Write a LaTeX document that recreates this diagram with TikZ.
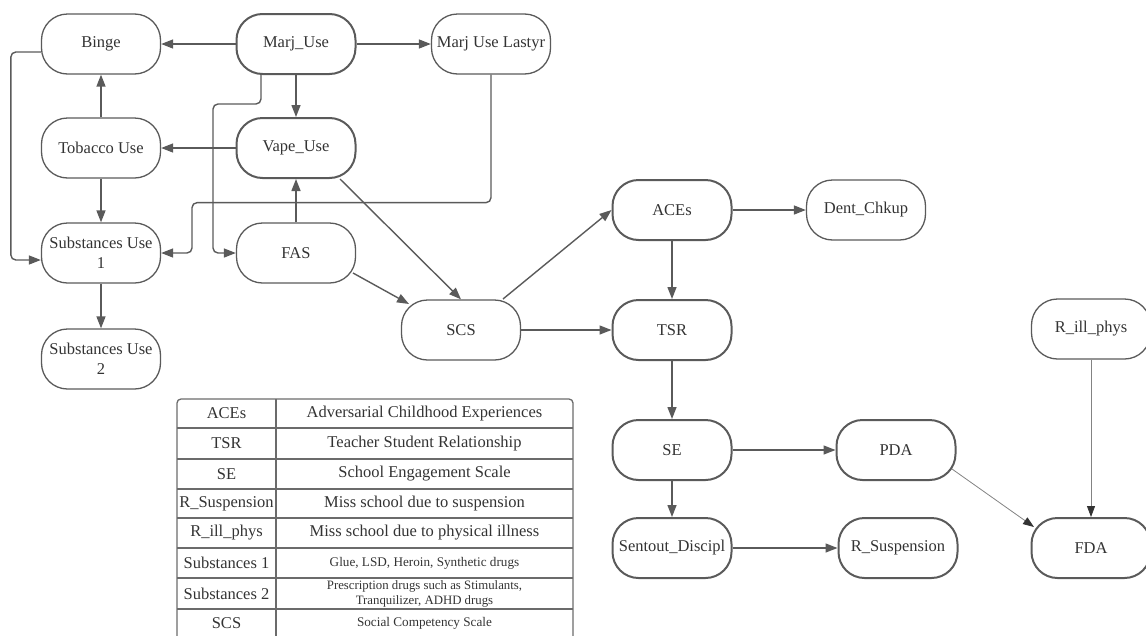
\documentclass[tikz,border=0pt]{standalone}
\usepackage{fontspec}
\setmainfont{Liberation Serif}
\usetikzlibrary{arrows.meta,calc}
\definecolor{ink}{HTML}{333333}
\definecolor{edge}{HTML}{5A5A5A}

\begin{document}
\begin{tikzpicture}[x=1pt,y=-1pt,
  box/.style={draw=edge, line width=1.3pt, rounded corners=26pt,
    minimum width=119pt, minimum height=60pt, inner sep=1pt,
    align=center, text=ink, font=\fontsize{16.5}{20}\selectfont},
  boldbox/.style={box, line width=2pt},
  conn/.style={draw=edge, line width=1.4pt, -{Triangle[length=12pt,width=9pt]}},
  fine/.style={draw=edge!75, line width=0.8pt, -{Triangle[length=11pt,width=8pt,color=ink]}},
  tab/.style={draw=edge!90, line width=1.3pt},
  cell/.style={text=ink, inner sep=0pt, align=center, font=\fontsize{16.5}{20}\selectfont},
  smallcell/.style={cell, font=\fontsize{13.2}{15}\selectfont},
  tinycell/.style={cell, font=\fontsize{12.8}{15}\selectfont}
]
\useasboundingbox (0,0) rectangle (1146,635);

% left cluster: substance use
\node[box]     (binge)  at (101,44)  {Binge};
\node[boldbox] (marj)   at (296,44)  {Marj\_Use};
\node[box]     (lastyr) at (491,44)  {Marj Use Lastyr};
\node[box]     (tob)    at (101,148) {Tobacco Use};
\node[boldbox] (vape)   at (296,148) {Vape\_Use};
\node[box]     (sub1)   at (101,253) {Substances Use\\1};
\node[box]     (fas)    at (296,253) {FAS};
\node[box]     (sub2)   at (101,359) {Substances Use\\2};

% middle and right: school outcomes
\node[box]     (scs)    at (461,330) {SCS};
\node[boldbox] (aces)   at (672,210) {ACEs};
\node[box]     (dent)   at (866,210) {Dent\_Chkup};
\node[boldbox] (tsr)    at (672,330) {TSR};
\node[box]     (rill)   at (1091,329) {R\_ill\_phys};
\node[boldbox] (se)     at (672,450) {SE};
\node[boldbox] (pda)    at (896,450) {PDA};
\node[boldbox] (sent)   at (672,548) {Sentout\_Discipl};
\node[boldbox] (rsus)   at (898,548) {R\_Suspension};
\node[boldbox] (fda)    at (1091,548) {FDA};

% connectors
\draw[conn] (marj) -- (binge);
\draw[conn] (marj) -- (lastyr);
\draw[conn] (marj) -- (vape);
\draw[conn] (vape) -- (tob);
\draw[conn] (tob) -- (binge);
\draw[conn] (tob) -- (sub1);
\draw[conn] (sub1) -- (sub2);
\draw[conn] (fas) -- (vape);
\draw[conn, rounded corners=5pt] ($(binge.west)+(0,8)$) -- ++(-30,0) |- ($(sub1.west)+(0,7)$);
\draw[conn, rounded corners=5pt] ($(marj.south)+(-35,0)$) |- ++(-48,29) |- (fas.west);
\draw[conn, rounded corners=5pt] (lastyr.south) |- ++(-299,128) |- (sub1.east);
\draw[conn] ($(vape.south)+(44,0)$) -- (scs.north);
\draw[conn] ($(fas.center)+(57,20)$) -- ($(scs.center)+(-52,-26)$);
\draw[conn] ($(scs.center)+(42,-31)$) -- (aces.west);
\draw[conn] (scs) -- (tsr);
\draw[conn] (aces) -- (dent);
\draw[conn] (aces) -- (tsr);
\draw[conn] (tsr) -- (se);
\draw[conn] (se) -- (pda);
\draw[conn] (se) -- (sent);
\draw[conn] (sent) -- (rsus);
\draw[fine] ($(pda.center)+(56,19)$) -- ($(fda.center)+(-57,-21)$);
\draw[fine] (rill) -- (fda);

% legend table
\draw[tab, rounded corners=4pt] (177,645) -- (177,399) -- (573,399) -- (573,645);
\draw[tab] (276,399) -- (276,645);
\foreach \yy in {428,459,489,518,548,578,609}
  \draw[tab] (177,\yy) -- (573,\yy);

\node[cell] (kA) at (226.5,413.5) {ACEs};
\node[cell] (vA) at (424.5,413.5) {Adversarial Childhood Experiences};
\node[cell] (kB) at (226.5,443.5) {TSR};
\node[cell] (vB) at (424.5,443.5) {Teacher Student Relationship};
\node[cell] (kC) at (226.5,474) {SE};
\node[cell] (vC) at (424.5,474) {School Engagement Scale};
\node[cell] (kD) at (226.5,503.5) {R\_Suspension};
\node[cell] (vD) at (424.5,503.5) {Miss school due to suspension};
\node[cell] (kE) at (226.5,533) {R\_ill\_phys};
\node[cell] (vE) at (424.5,533) {Miss school due to physical illness};
\node[cell] (kF) at (226.5,563) {Substances 1};
\node[smallcell] (vF) at (424.5,563) {Glue, LSD, Heroin, Synthetic drugs};
\node[cell] (kG) at (226.5,593.5) {Substances 2};
\node[tinycell] (vG) at (424.5,593.5) {Prescription drugs such as Stimulants,\\Tranquilizer, ADHD drugs};
\node[cell] (kH) at (226.5,623) {SCS};
\node[smallcell] (vH) at (424.5,623) {Social Competency Scale};
\end{tikzpicture}
\end{document}
